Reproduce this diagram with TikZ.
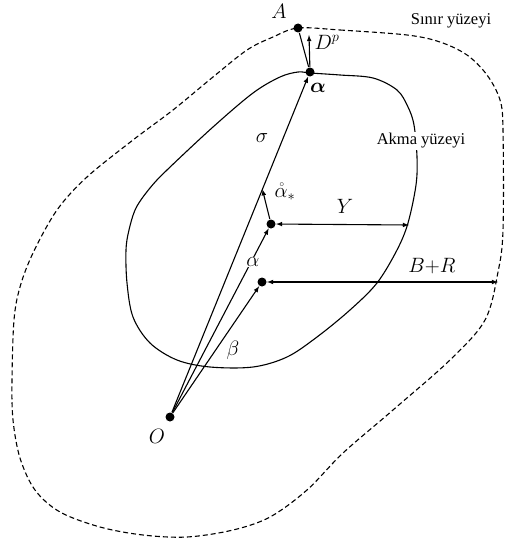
\documentclass[tikz,border=0pt]{standalone}
\usepackage{amsmath}
\usepackage{fontspec}
\setmainfont{Liberation Serif}
\usetikzlibrary{arrows,calc}

\begin{document}
\begin{tikzpicture}[x=1pt, y=-1pt, line width=1.1pt,
  dot/.style={circle, fill=black, inner sep=0pt, minimum size=9pt},
  lbl/.style={font=\fontsize{20}{24}\selectfont, inner sep=1pt},
  surf/.style={font=\fontsize{16.5}{19}\selectfont, inner sep=1pt, fill=white},
  vec/.style={-latex}]

  \useasboundingbox (0,0) rectangle (505,543);

  % boundary surface (dashed)
  \draw[dash pattern=on 5pt off 3pt] plot[smooth cycle, tension=0.55] coordinates {
    (298,28) (340,30) (407,35) (440,42) (467,55) (487,75) (500,100) (503,130)
    (503,230) (498,272) (485,320) (450,360) (393,410) (343,453) (307,490)
    (270,517) (233,530) (187,537) (143,535) (100,527) (60,512) (35,490)
    (20,458) (13,420) (12,380) (14,320) (20,287) (33,253) (57,210) (87,177)
    (133,140) (173,110) (213,77) (247,50) (273,37)};

  % yield surface
  \draw plot[smooth cycle, tension=0.55] coordinates {
    (310,73) (340,75) (373,78) (397,90) (408,107) (414,125) (417,157)
    (416,185) (408,223) (397,250) (377,283) (350,310) (317,337) (287,357)
    (253,367) (210,367) (177,360) (150,343) (133,317) (127,283) (126,250)
    (129,230) (136,208) (150,188) (167,170) (213,127) (253,93) (280,77)
    (298,72)};

  \node[dot] (O) at (170,417) {};
  \node[dot] (A) at (298,28) {};
  \node[dot] (a) at (310,72) {};
  \node[dot] (c) at (271,224) {};
  \node[dot] (b) at (262,282) {};

  \coordinate (cs) at ($(O)!0.66!(a)$);
  \coordinate (dp) at (309,35);
  \coordinate (yend) at (409,225);
  \coordinate (brend) at (498,282);

  \draw[vec] (O) -- (a);
  \draw[vec] (O) -- (c);
  \draw[vec] (O) -- (b);
  \draw[vec] (c) -- (cs);
  \draw (A) -- (a);
  \draw[vec] (a) -- (dp);
  \draw[latex-latex] (c) -- (yend);
  \draw[latex-latex] (b) -- (brend);

  \node[lbl] at (279,11) {$A$};
  \node[lbl] at (157,436) {$O$};
  \node[lbl] at (327,42) {$D^p$};
  \node[lbl] at (318,88) {$\boldsymbol{\alpha}$};
  \node[lbl] at (262,138) {$\sigma$};
  \node[lbl] at (285,192) {$\mathring{\alpha}_*$};
  \node[lbl] at (345,206) {$Y$};
  \node[lbl, fill=white] at (253,262) {$\alpha$};
  \node[lbl] at (233,350) {$\beta$};
  \node[lbl] at (432,266) {$B{+}R$};

  \node[surf] at (451,21) {Sınır yüzeyi};
  \node[surf] at (421,141) {Akma yüzeyi};

\end{tikzpicture}
\end{document}
